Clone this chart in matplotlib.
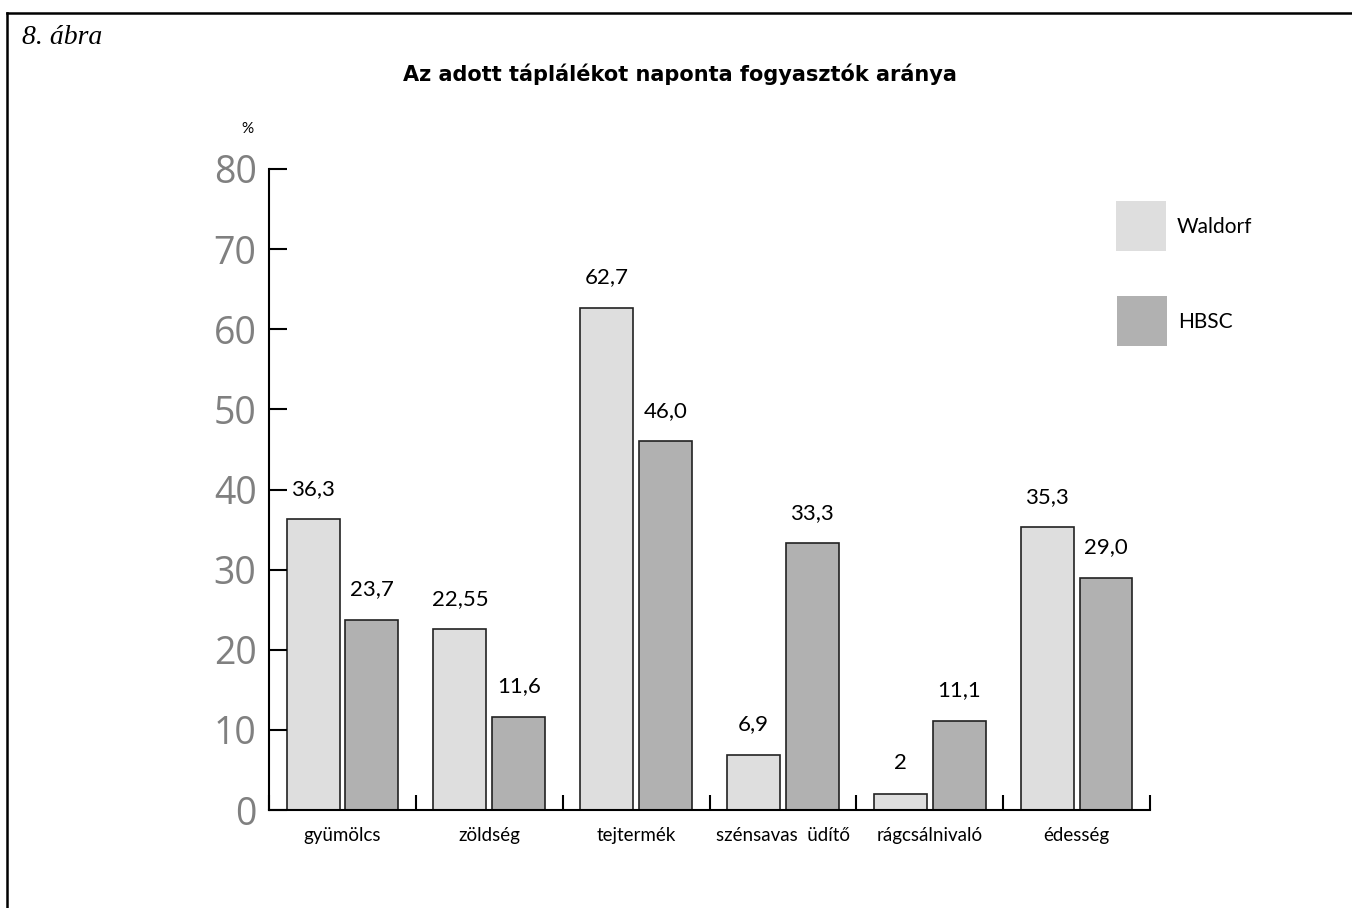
import matplotlib
matplotlib.use("Agg")
import matplotlib.pyplot as plt
from matplotlib.lines import Line2D
from matplotlib.patches import Rectangle
import numpy as np

# data
categories = ["gyümölcs", "zöldség", "tejtermék", "szénsavas  üdítő",
              "rágcsálnivaló", "édesség"]
waldorf = [36.3, 22.55, 62.7, 6.9, 2, 35.3]
hbsc = [23.7, 11.6, 46.0, 33.3, 11.1, 29.0]
waldorf_labels = ["36,3", "22,55", "62,7", "6,9", "2", "35,3"]
hbsc_labels = ["23,7", "11,6", "46,0", "33,3", "11,1", "29,0"]
series_names = ["Waldorf", "HBSC"]
y_ticks = [0, 10, 20, 30, 40, 50, 60, 70, 80]

LIGHT = "#dedede"
DARK = "#b1b1b1"
TXT_FONT = "Lato"

fig = plt.figure(figsize=(13.52, 9.08), dpi=100)
ax = fig.add_axes([0.199, 0.1079, 0.6516, 0.706])

x = np.arange(len(categories))
w = 0.36
ax.bar(x - 0.2, waldorf, w, color=LIGHT, edgecolor="#222222", linewidth=1.2)
ax.bar(x + 0.2, hbsc, w, color=DARK, edgecolor="#222222", linewidth=1.2)

# value labels above the bars
for xi, v, lab in zip(x, waldorf, waldorf_labels):
    ax.annotate(lab, (xi - 0.2, v), xytext=(0, 22), textcoords="offset points",
                ha="center", va="center", fontsize=16, family=TXT_FONT)
for xi, v, lab in zip(x, hbsc, hbsc_labels):
    ax.annotate(lab, (xi + 0.2, v), xytext=(0, 22), textcoords="offset points",
                ha="center", va="center", fontsize=16, family=TXT_FONT)

ax.set_xlim(-0.5, len(categories) - 0.5)
ax.set_ylim(0, 80)

for side in ("top", "right"):
    ax.spines[side].set_visible(False)
for side in ("left", "bottom"):
    ax.spines[side].set_linewidth(1.5)
    ax.spines[side].set_color("black")

# y axis: ticks pointing in, big gray numbers
ax.set_yticks(y_ticks)
ax.set_yticklabels([str(t) for t in y_ticks])
ax.tick_params(axis="y", direction="in", length=13, width=1.5, pad=9,
               labelsize=27, labelcolor="#808080")
for lab in ax.get_yticklabels():
    lab.set_family("Open Sans")

# x axis: boundary ticks + category names in between
ax.set_xticks(np.arange(-0.5, len(categories), 1.0))
ax.set_xticklabels([])
ax.tick_params(axis="x", which="major", direction="in", length=11, width=1.5)
ax.set_xticks(x, categories, minor=True)
ax.tick_params(axis="x", which="minor", length=0, pad=12, labelsize=13.5)
for lab in ax.get_xticklabels(minor=True):
    lab.set_family(TXT_FONT)

ax.text(-0.025, 1.062, "%", transform=ax.transAxes, ha="center", va="center",
        fontsize=11, family=TXT_FONT)

# legend squares on the right
fig.add_artist(Rectangle((1116 / 1352, 1 - 251 / 908), 50 / 1352, 50 / 908,
                         facecolor=LIGHT, edgecolor="none",
                         transform=fig.transFigure))
fig.add_artist(Rectangle((1117 / 1352, 1 - 346 / 908), 50 / 1352, 50 / 908,
                         facecolor=DARK, edgecolor="none",
                         transform=fig.transFigure))
fig.text(1177 / 1352, 1 - 227 / 908, series_names[0], ha="left", va="center",
         fontsize=15, family=TXT_FONT)
fig.text(1178 / 1352, 1 - 322 / 908, series_names[1], ha="left", va="center",
         fontsize=15, family=TXT_FONT)

# title and figure caption
fig.text(0.503, 1 - 74 / 908, "Az adott táplálékot naponta fogyasztók aránya",
         ha="center", va="center", fontsize=15, fontweight="bold",
         family="DejaVu Sans")
fig.text(22 / 1352, 1 - 38 / 908, "8. ábra", ha="left", va="center",
         fontsize=20, style="italic", family="Liberation Serif")

# frame lines (top and left)
fig.add_artist(Line2D([7 / 1352, 1], [1 - 13 / 908, 1 - 13 / 908],
                      color="black", linewidth=1.8, transform=fig.transFigure))
fig.add_artist(Line2D([7 / 1352, 7 / 1352], [0, 1 - 13 / 908],
                      color="black", linewidth=1.8, transform=fig.transFigure))

fig.savefig("out.png", dpi=100)
